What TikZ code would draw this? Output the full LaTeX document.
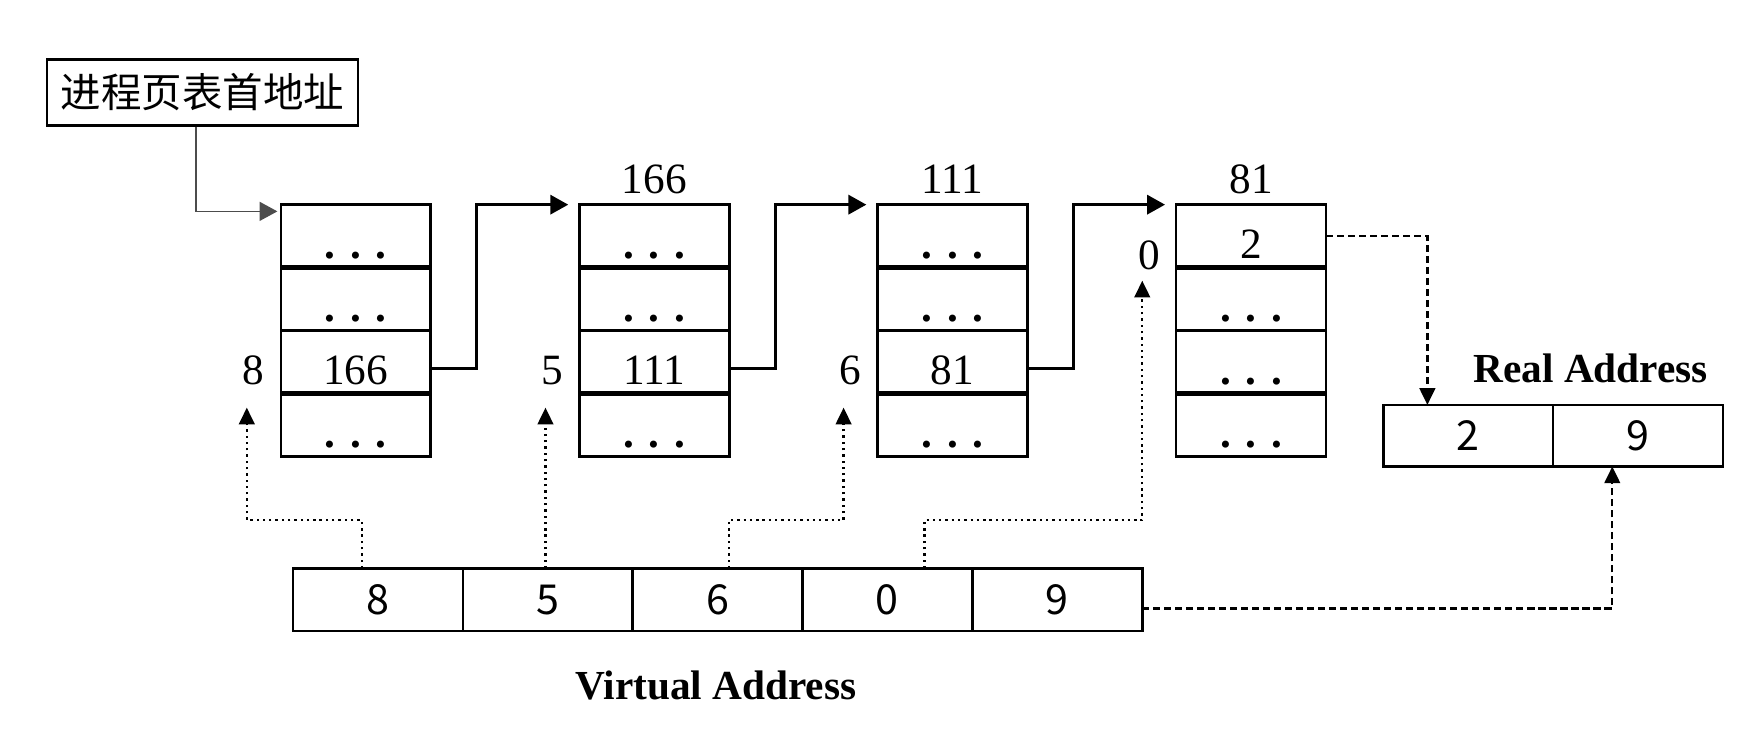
\documentclass[tikz,border=0pt]{standalone}
\usepackage{fontspec}
\setmainfont{Liberation Serif}
\newfontfamily\cjk{Noto Sans CJK SC}
\usetikzlibrary{positioning,arrows.meta}

\newcommand{\tabfont}{\fontsize{11}{13}\selectfont}
\newcommand{\etcdots}{\textbf{.}\hspace{1.3mm}\textbf{.}\hspace{1.3mm}\textbf{.}}

\begin{document}
\begin{tikzpicture}[
  cell/.style={draw, line width=0.6pt, minimum width=1.34cm, minimum height=0.5625cm,
               inner sep=0pt, outer sep=0pt, text height=4mm, text depth=0mm, font=\tabfont},
  lbl/.style={inner sep=0pt, minimum height=0.5625cm, text height=4mm, text depth=0mm, font=\tabfont},
  head/.style={inner sep=0pt, font=\tabfont},
  sep/.style={line width=1.4pt},
  addrcell/.style={draw, line width=0.7pt, minimum width=1.518cm, minimum height=0.56cm,
                   inner sep=0pt, outer sep=0pt, font=\cjk\fontsize{10.5}{12}\selectfont},
  caption/.style={inner sep=0pt, font=\bfseries\fontsize{10.5}{12}\selectfont},
  link/.style={-{Triangle[length=1.6mm, width=1.7mm]}, line width=0.8pt},
  feed/.style={-{Triangle[length=1.6mm, width=1.7mm]}, line width=0.4pt, draw=black!70},
  dotarr/.style={-{Triangle[length=1.5mm, width=1.4mm]}, line width=0.6pt, densely dotted},
  dasharr/.style={-{Triangle[length=1.5mm, width=1.4mm]}, line width=0.6pt,
                  dash pattern=on 1.8pt off 1pt}
]
  \useasboundingbox (0,0) rectangle (15.68,6.56);

  % page table base address
  \node[draw, line width=0.7pt, minimum width=2.78cm, minimum height=0.59cm, inner sep=0pt,
        font=\cjk\fontsize{10.3}{12}\selectfont] (addr) at (1.81,5.735) {进程页表首地址};

  % first level
  \node[cell] (t1a) at (3.18,4.449) {\etcdots};
  \node[cell, below=0pt of t1a] (t1b) {\etcdots};
  \node[cell, below=0pt of t1b] (t1c) {166};
  \node[cell, below=0pt of t1c] (t1d) {\etcdots};
  \draw[sep] (t1a.south west) -- (t1a.south east);
  \draw[sep] (t1c.south west) -- (t1c.south east);
  \node[lbl, left=1.4mm of t1c] (l8) {8};

  % second level
  \node[cell] (t2a) at (5.85,4.449) {\etcdots};
  \node[cell, below=0pt of t2a] (t2b) {\etcdots};
  \node[cell, below=0pt of t2b] (t2c) {111};
  \node[cell, below=0pt of t2c] (t2d) {\etcdots};
  \draw[sep] (t2a.south west) -- (t2a.south east);
  \draw[sep] (t2c.south west) -- (t2c.south east);
  \node[lbl, left=1.4mm of t2c] (l5) {5};
  \node[head, above=0.9mm of t2a] (h2) {166};

  % third level
  \node[cell] (t3a) at (8.515,4.449) {\etcdots};
  \node[cell, below=0pt of t3a] (t3b) {\etcdots};
  \node[cell, below=0pt of t3b] (t3c) {81};
  \node[cell, below=0pt of t3c] (t3d) {\etcdots};
  \draw[sep] (t3a.south west) -- (t3a.south east);
  \draw[sep] (t3c.south west) -- (t3c.south east);
  \node[lbl, left=1.4mm of t3c] (l6) {6};
  \node[head, above=0.9mm of t3a] (h3) {111};

  % fourth level
  \node[cell] (t4a) at (11.185,4.449) {2};
  \node[cell, below=0pt of t4a] (t4b) {\etcdots};
  \node[cell, below=0pt of t4b] (t4c) {\etcdots};
  \node[cell, below=0pt of t4c] (t4d) {\etcdots};
  \draw[sep] (t4a.south west) -- (t4a.south east);
  \draw[sep] (t4c.south west) -- (t4c.south east);
  \node[lbl, left=1.4mm of t4a, yshift=-1mm] (l0) {0};
  \node[head, above=0.9mm of t4a] (h4) {81};

  % virtual address
  \node[addrcell] (v8) at (3.379,1.20) {8};
  \node[addrcell, right=0pt of v8] (v5) {5};
  \node[addrcell, right=0pt of v5] (v6) {6};
  \node[addrcell, right=0pt of v6] (v0) {0};
  \node[addrcell, right=0pt of v0] (v9) {9};
  \node[caption, anchor=base] (vcap) at (6.40,0.31) {Virtual Address};

  % real address
  \node[addrcell, minimum height=0.55cm] (r2) at (13.125,2.665) {2};
  \node[addrcell, minimum height=0.55cm, right=0pt of r2] (r9) {9};
  \node[caption, anchor=base] (rcap) at (14.22,3.14) {Real Address};

  % table chain
  \draw[feed] ([xshift=-0.6mm]addr.south) |- ([xshift=-0.3mm,yshift=-0.6mm]t1a.north west);
  \draw[link] ([yshift=-0.6mm]t1c.east) -- ++(0.41,0) |- ([xshift=-1mm]t2a.north west);
  \draw[link] ([yshift=-0.6mm]t2c.east) -- ++(0.41,0) |- ([xshift=-1mm]t3a.north west);
  \draw[link] ([yshift=-0.6mm]t3c.east) -- ++(0.41,0) |- ([xshift=-1mm]t4a.north west);

  % index fields
  \draw[dotarr] ([xshift=-1.45mm]v8.north) -- ++(0,0.43) -| ([xshift=-0.6mm,yshift=-1.2mm]l8.south);
  \draw[dotarr] ([xshift=-0.6mm]l5.south |- v5.north) -- ([xshift=-0.6mm,yshift=-1.2mm]l5.south);
  \draw[dotarr] ([xshift=1mm]v6.north) -- ++(0,0.43) -| ([xshift=-0.6mm,yshift=-1.2mm]l6.south);
  \draw[dotarr] ([xshift=3.3mm]v0.north) -- ++(0,0.43) -| ([xshift=-0.6mm,yshift=-0.1mm]l0.south);

  % frame and offset
  \draw[dasharr] (t4a.east) -| ([xshift=-3.65mm]r2.north);
  \draw[dasharr] ([yshift=-0.8mm]v9.east) -| ([xshift=-2.3mm]r9.south);
\end{tikzpicture}
\end{document}
